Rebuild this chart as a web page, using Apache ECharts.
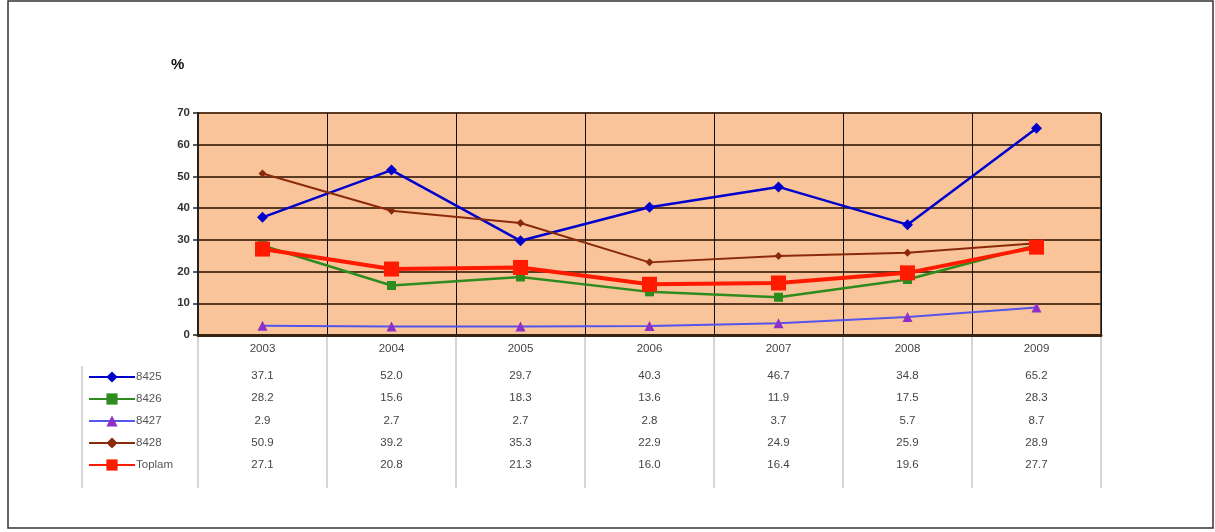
<!DOCTYPE html>
<html><head><meta charset="utf-8">
<script src="https://cdn.jsdelivr.net/npm/echarts@6/dist/echarts.min.js"></script>
<style>html,body{margin:0;padding:0;background:#fff}#c{width:1215px;height:532px}</style>
</head><body><div id="c"></div>
<script>
const years = ['2003','2004','2005','2006','2007','2008','2009'];
const yTicks = [0,10,20,30,40,50,60,70];
const s8425 = [37.1,52.0,29.7,40.3,46.7,34.8,65.2];
const s8426 = [28.2,15.6,18.3,13.6,11.9,17.5,28.3];
const s8427 = [2.9,2.7,2.7,2.8,3.7,5.7,8.7];
const s8428 = [50.9,39.2,35.3,22.9,24.9,25.9,28.9];
const sToplam = [27.1,20.8,21.3,16.0,16.4,19.6,27.7];
const seriesNames = ['8425','8426','8427','8428','Toplam'];
const seriesData = [s8425,s8426,s8427,s8428,sToplam];

const FONT = '"Liberation Sans", Arial, sans-serif';
const styles = [
  {color:'#0000CC', mColor:'#0000CC', symbol:'diamond', size:11, width:2.5},
  {color:'#2E8B1E', mColor:'#2E8B1E', symbol:'rect', size:9, width:2.5},
  {color:'#5555EE', mColor:'#8E2FC8', symbol:'triangle', size:10, width:2},
  {color:'#8B2A0A', mColor:'#8B2A0A', symbol:'diamond', size:8, width:2},
  {color:'#FF1A00', mColor:'#FF1A00', symbol:'rect', size:15, width:4}
];

const chart = echarts.init(document.getElementById('c'), null, {renderer:'canvas'});

const xAxes = [{
  type:'category', data:years, gridIndex:0, boundaryGap:true,
  axisLine:{show:true, lineStyle:{color:'#3a2410', width:3}},
  axisTick:{show:false},
  splitLine:{show:true, lineStyle:{color:'#111', width:1}},
  axisLabel:{color:'#444', fontSize:11.5, fontFamily:FONT, margin:8}
}];
seriesData.forEach((d,i)=>{
  xAxes.push({
    type:'category', data:d.map(v=>v.toFixed(1)), gridIndex:0, position:'bottom',
    offset: 27 + 22.3*i,
    axisLine:{show:false}, axisTick:{show:false}, splitLine:{show:false},
    axisLabel:{color:'#444', fontSize:11.5, fontFamily:FONT, margin:8}
  });
});
xAxes.push({
  type:'category', data:years, gridIndex:1, boundaryGap:true,
  axisLine:{show:false}, axisTick:{show:false}, axisLabel:{show:false},
  splitLine:{show:true, lineStyle:{color:'#c8c8c8', width:1.5}}
});

const option = {
  backgroundColor:'#fff',
  animation:false,
  title:{text:'%', left:166, top:52, textStyle:{fontSize:15, fontWeight:'bold', color:'#111', fontFamily:FONT}},
  legend:{
    orient:'vertical', left:83, top:366, itemWidth:46, itemHeight:14, itemGap:10,
    data:seriesNames,
    textStyle:{color:'#555', fontSize:11.5, fontFamily:FONT, padding:[0,0,0,-4]}
  },
  grid:[
    {left:198, right:114, top:113, bottom:197, backgroundColor:'#FAC49B', show:true, borderWidth:0},
    {left:198, right:114, top:337, bottom:44, show:false}
  ],
  xAxis:xAxes,
  yAxis:[{
    type:'value', min:0, max:70, interval:10, gridIndex:0,
    axisLine:{show:true, lineStyle:{color:'#222', width:2}},
    axisTick:{show:true, length:5, lineStyle:{color:'#222', width:1.5}},
    splitLine:{show:true, lineStyle:{color:'#5a3a22', width:2}},
    axisLabel:{color:'#333', fontSize:11.5, fontWeight:'bold', fontFamily:FONT, margin:8,
      formatter:v=>yTicks.includes(v)?String(v):''}
  },{
    type:'value', gridIndex:1, show:false, min:0, max:1
  }],
  series: seriesData.map((d,i)=>({
    name:seriesNames[i], type:'line', data:d, xAxisIndex:0, yAxisIndex:0,
    symbol:styles[i].symbol, symbolSize:styles[i].size, showSymbol:true,
    lineStyle:{color:styles[i].color, width:styles[i].width},
    itemStyle:{color:styles[i].mColor, borderWidth:0},
    z: i===4 ? 5 : 3
  })),
  graphic:[
    {type:'rect', shape:{x:8, y:1, width:1205, height:527}, style:{fill:null, stroke:'#333', lineWidth:1.5}, silent:true},
    {type:'line', shape:{x1:82, y1:366, x2:82, y2:488}, style:{stroke:'#c8c8c8', lineWidth:1.5}, silent:true},
    {type:'line', shape:{x1:1101, y1:113, x2:1101, y2:335}, style:{stroke:'#222', lineWidth:1.5}, silent:true}
  ]
};
chart.setOption(option);
</script>
</body></html>
